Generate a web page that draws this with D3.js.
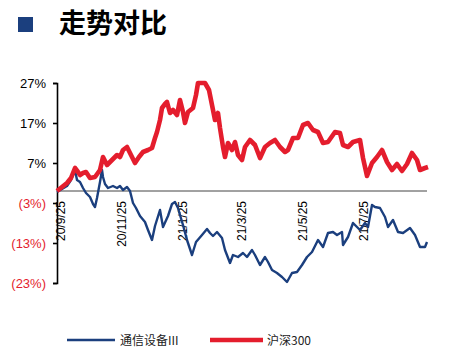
<!DOCTYPE html>
<html><head><meta charset="utf-8">
<script src="https://cdn.jsdelivr.net/npm/d3@7"></script>
<style>body{margin:0;background:#fff}svg{display:block}</style>
</head><body><div id="chart"></div>
<script>
const title = "走势对比";
const seriesNames = ["通信设备III", "沪深300"];
const yTicks = [27, 17, 7, -3, -13, -23];
const xTickDates = ["2020-09-25","2020-11-25","2021-01-25","2021-03-25","2021-05-25","2021-07-25"];

const telecomDates = ["2020-09-22","2020-09-27","2020-10-02","2020-10-06","2020-10-10","2020-10-12","2020-10-15","2020-10-18","2020-10-21","2020-10-25","2020-10-28","2020-10-30","2020-11-01","2020-11-04","2020-11-06","2020-11-07","2020-11-09","2020-11-12","2020-11-17","2020-11-21","2020-11-24","2020-11-27","2020-12-01","2020-12-04","2020-12-07","2020-12-10","2020-12-14","2020-12-19","2020-12-22","2020-12-26","2020-12-29","2021-01-03","2021-01-06","2021-01-11","2021-01-15","2021-01-18","2021-01-21","2021-01-23","2021-01-26","2021-01-30","2021-02-04","2021-02-08","2021-02-14","2021-02-19","2021-02-22","2021-02-25","2021-03-01","2021-03-06","2021-03-09","2021-03-14","2021-03-17","2021-03-22","2021-03-27","2021-03-31","2021-04-05","2021-04-08","2021-04-13","2021-04-18","2021-04-21","2021-04-25","2021-04-30","2021-05-05","2021-05-10","2021-05-15","2021-05-20","2021-05-25","2021-05-30","2021-06-04","2021-06-10","2021-06-15","2021-06-20","2021-06-25","2021-06-29","2021-07-04","2021-07-05","2021-07-10","2021-07-15","2021-07-19","2021-07-22","2021-07-27","2021-07-30","2021-08-03","2021-08-06","2021-08-11","2021-08-16","2021-08-19","2021-08-24","2021-08-29","2021-09-03","2021-09-10","2021-09-15","2021-09-20","2021-09-25","2021-09-27"];
const telecomValues = [-0.25,0.5,1.25,2.75,5.25,2.75,2.25,0.75,-0.5,-1.5,-3.25,-4.0,-1.75,2.25,5.25,3.5,1.75,0.75,1.25,0.75,1.25,0.25,1.0,0,-3.0,-4.25,-6.25,-7.75,-9.75,-12.25,-8.75,-4.75,-9.0,-6.25,-3.25,-2.75,-4.25,-6.0,-8.5,-12.25,-16.0,-12.75,-11.0,-9.5,-10.5,-11.25,-10.25,-11.75,-14.75,-18.0,-16.0,-16.5,-15.5,-16.5,-14.75,-16.0,-18.5,-16.5,-17.75,-19.75,-20.5,-21.5,-22.75,-20.5,-20.25,-18.5,-16.5,-15.25,-12.25,-14.0,-10.5,-10.25,-11.0,-10.25,-13.5,-11.5,-8.0,-9.0,-9.75,-8.0,-9.0,-3.5,-4.0,-4.25,-6.5,-9.0,-7.25,-10.25,-10.5,-9.25,-11.0,-14.0,-14.0,-12.75];

const hs300Dates = ["2020-09-22","2020-09-27","2020-10-02","2020-10-06","2020-10-10","2020-10-13","2020-10-15","2020-10-18","2020-10-21","2020-10-25","2020-10-30","2020-11-04","2020-11-07","2020-11-11","2020-11-16","2020-11-21","2020-11-24","2020-11-27","2020-12-01","2020-12-05","2020-12-09","2020-12-13","2020-12-17","2020-12-22","2020-12-26","2020-12-29","2020-12-31","2021-01-03","2021-01-05","2021-01-08","2021-01-10","2021-01-13","2021-01-16","2021-01-20","2021-01-23","2021-01-26","2021-01-28","2021-01-31","2021-02-05","2021-02-08","2021-02-10","2021-02-17","2021-02-21","2021-02-24","2021-02-27","2021-03-02","2021-03-04","2021-03-07","2021-03-09","2021-03-12","2021-03-16","2021-03-19","2021-03-22","2021-03-26","2021-03-29","2021-04-03","2021-04-08","2021-04-13","2021-04-18","2021-04-23","2021-04-28","2021-05-03","2021-05-08","2021-05-11","2021-05-16","2021-05-21","2021-05-26","2021-05-31","2021-06-05","2021-06-10","2021-06-15","2021-06-20","2021-06-27","2021-07-02","2021-07-05","2021-07-10","2021-07-15","2021-07-22","2021-07-25","2021-07-29","2021-08-03","2021-08-08","2021-08-13","2021-08-18","2021-08-23","2021-08-28","2021-09-02","2021-09-07","2021-09-12","2021-09-17","2021-09-20","2021-09-25","2021-09-28"];
const hs300Values = [0,1.0,2.0,3.25,5.75,4.75,4.0,4.5,4.75,3.25,3.5,5.25,8.5,6.5,7.75,9.0,8.5,10.25,11.0,9.0,7.0,8.5,9.75,10.25,10.75,13.25,14.75,17.75,20.75,21.75,22.25,19.5,20.25,19.0,22.75,19.75,17.0,19.75,20.75,24.0,27.0,27.0,25.25,21.5,17.75,19.5,15.75,11.0,8.5,12.0,10.25,12.25,9.0,7.75,11.0,12.75,11.5,8.25,11.0,12.0,12.75,11.0,9.75,10.25,13.25,13.25,16.5,17.0,15.25,14.75,12.0,12.25,14.75,14.5,11.5,11.0,12.25,12.75,8.25,3.75,7.0,8.5,10.25,7.25,5.25,6.75,5.0,6.75,9.5,7.75,5.25,5.75,6.0];

const W = 450, H = 356;
const blue = "#1b3f7e", red = "#e41d2d";
const parse = d3.timeParse("%Y-%m-%d");
const fmt = d3.timeFormat("%y/%-m/%-d");

const svg = d3.select("#chart").append("svg").attr("width", W).attr("height", H)
  .style("font-family", "'Liberation Sans', Arial, sans-serif");

// title
svg.append("rect").attr("x", 18).attr("y", 17).attr("width", 15).attr("height", 15).attr("fill", blue);
svg.append("text").attr("x", 59).attr("y", 33).text(title)
  .style("font-family", "'Noto Sans CJK SC', sans-serif").style("font-weight", 700)
  .style("font-size", "27px").attr("fill", "#000");

const x = d3.scaleTime().domain([parse("2020-09-22"), parse("2021-09-28")]).range([57, 428]);
const y = d3.scaleLinear().domain([-23, 27]).range([283, 83]);

// y axis
const yAxis = svg.append("g").attr("transform", "translate(57,0)")
  .call(d3.axisLeft(y).tickValues(yTicks).tickSize(4).tickPadding(7)
    .tickFormat(d => d < 0 ? "(" + Math.abs(d) + "%)" : d + "%"));
yAxis.select(".domain").attr("stroke", "#000").attr("stroke-width", 1.6);
yAxis.selectAll(".tick line").attr("stroke", "#000").attr("stroke-width", 1.6);
yAxis.selectAll(".tick text").style("font-size", "13px").attr("fill", d => d < 0 ? red : "#000");

// zero line
svg.append("line").attr("x1", 57).attr("x2", 427).attr("y1", y(0)).attr("y2", y(0))
  .attr("stroke", "#444").attr("stroke-width", 1);

// x labels
const xAxis = svg.append("g").attr("transform", `translate(0,${y(0)})`)
  .call(d3.axisBottom(x).tickValues(xTickDates.map(parse)).tickSize(0).tickFormat(fmt));
xAxis.select(".domain").remove();
xAxis.selectAll(".tick text").attr("transform", "rotate(-90)").attr("text-anchor", "end")
  .attr("x", -10).attr("y", 0).attr("dy", "0.35em").style("font-size", "12px").attr("fill", "#000");

const line = d3.line().x(d => x(d.date)).y(d => y(d.v));
const telecom = telecomDates.map((d, i) => ({date: parse(d), v: telecomValues[i]}));
const hs300 = hs300Dates.map((d, i) => ({date: parse(d), v: hs300Values[i]}));

svg.append("path").datum(telecom).attr("d", line).attr("fill", "none")
  .attr("stroke", blue).attr("stroke-width", 2.4).attr("stroke-linejoin", "round");
svg.append("path").datum(hs300).attr("d", line).attr("fill", "none")
  .attr("stroke", red).attr("stroke-width", 4.6).attr("stroke-linejoin", "round");

// legend
const leg = svg.append("g");
leg.append("line").attr("x1", 67).attr("x2", 115).attr("y1", 340).attr("y2", 340).attr("stroke", blue).attr("stroke-width", 2.4);
leg.append("text").attr("x", 120).attr("y", 344.5).text(seriesNames[0])
  .style("font-family", "'Noto Sans CJK SC', sans-serif").style("font-size", "12px").attr("fill", "#222");
leg.append("line").attr("x1", 210).attr("x2", 263).attr("y1", 340).attr("y2", 340).attr("stroke", red).attr("stroke-width", 4.6);
leg.append("text").attr("x", 267).attr("y", 344.5).text(seriesNames[1])
  .style("font-family", "'Noto Sans CJK SC', sans-serif").style("font-size", "12px").attr("fill", "#222");
</script></body></html>
